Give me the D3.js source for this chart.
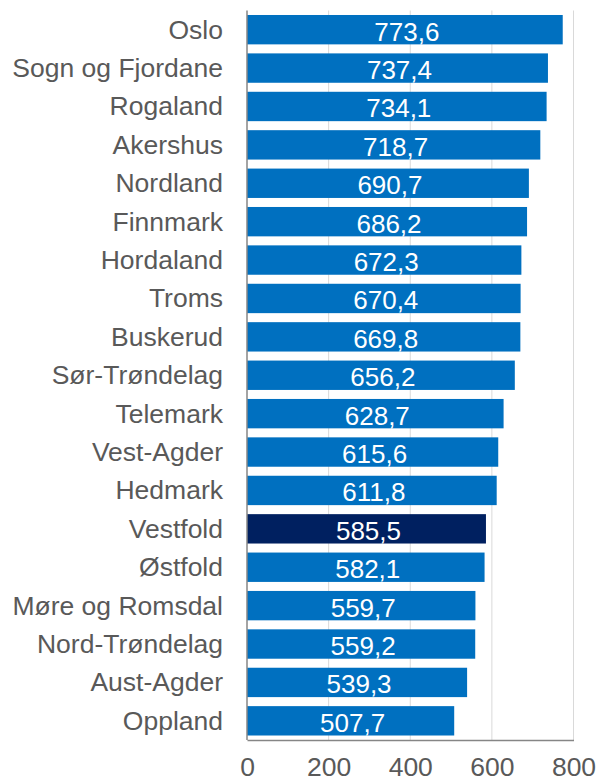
<!DOCTYPE html>
<html>
<head>
<meta charset="utf-8">
<script src="https://cdn.jsdelivr.net/npm/d3@7"></script>
<style>
  html, body { margin: 0; padding: 0; background: #fff; }
  svg { display: block; }
</style>
</head>
<body>
<svg id="chart" width="598" height="782"></svg>
<script>
// Counties, ordered from highest to lowest value
const counties = ["Oslo", "Sogn og Fjordane", "Rogaland", "Akershus", "Nordland", "Finnmark",
  "Hordaland", "Troms", "Buskerud", "Sør-Trøndelag", "Telemark", "Vest-Agder", "Hedmark",
  "Vestfold", "Østfold", "Møre og Romsdal", "Nord-Trøndelag", "Aust-Agder", "Oppland"];
const values = [773.6, 737.4, 734.1, 718.7, 690.7, 686.2, 672.3, 670.4, 669.8, 656.2,
  628.7, 615.6, 611.8, 585.5, 582.1, 559.7, 559.2, 539.3, 507.7];
const highlighted = ["Vestfold"];
const xTicks = [0, 200, 400, 600, 800];

const data = counties.map((c, i) => ({ county: c, value: values[i] }));

const svg = d3.select("#chart");
const font = "'Liberation Sans', Arial, sans-serif";
const plot = { left: 247, right: 573.5, top: 10.5, bottom: 740 };

const x = d3.scaleLinear().domain([0, 800]).range([plot.left, plot.right]);
const y = d3.scaleBand().domain(counties).range([plot.top, plot.bottom])
  .paddingInner(0.235).paddingOuter(0.117);

const fmt = v => d3.format(".1f")(v).replace(".", ",");

// vertical gridlines
svg.append("g")
  .selectAll("line")
  .data(xTicks.filter(t => t > 0))
  .join("line")
  .attr("x1", d => x(d)).attr("x2", d => x(d))
  .attr("y1", plot.top).attr("y2", plot.bottom)
  .attr("stroke", "#d9d9d9").attr("stroke-width", 1);

// bars
svg.append("g")
  .selectAll("rect")
  .data(data)
  .join("rect")
  .attr("x", x(0))
  .attr("y", d => y(d.county))
  .attr("width", d => x(d.value) - x(0))
  .attr("height", y.bandwidth())
  .attr("fill", d => highlighted.includes(d.county) ? "#002060" : "#0070c0");

// value labels inside bars
svg.append("g")
  .selectAll("text")
  .data(data)
  .join("text")
  .attr("x", d => (x(0) + x(d.value)) / 2 + 2)
  .attr("y", d => y(d.county) + y.bandwidth() / 2)
  .attr("dy", "0.42em")
  .attr("text-anchor", "middle")
  .attr("fill", "#ffffff")
  .style("font-family", font)
  .style("font-size", "26px")
  .text(d => fmt(d.value));

// category axis
const yAxis = d3.axisLeft(y).tickSize(0).tickPadding(24);
const gy = svg.append("g").attr("transform", `translate(${plot.left},0)`).call(yAxis);
gy.select(".domain").attr("stroke", "#868686").attr("stroke-width", 1.5)
  .attr("d", `M0,${plot.top}V${plot.bottom}`);
gy.selectAll("text")
  .attr("dy", "0.34em")
  .attr("fill", "#595959")
  .style("font-family", font)
  .style("font-size", "26.5px");

// value axis
const xAxis = d3.axisBottom(x).tickValues(xTicks).tickSize(0).tickPadding(17).tickFormat(d3.format("d"));
const gx = svg.append("g").attr("transform", `translate(0,${plot.bottom})`).call(xAxis);
gx.select(".domain").attr("stroke", "#868686").attr("stroke-width", 1.5);
gx.selectAll("text")
  .attr("fill", "#595959")
  .style("font-family", font)
  .style("font-size", "26.5px");
</script>
</body>
</html>
